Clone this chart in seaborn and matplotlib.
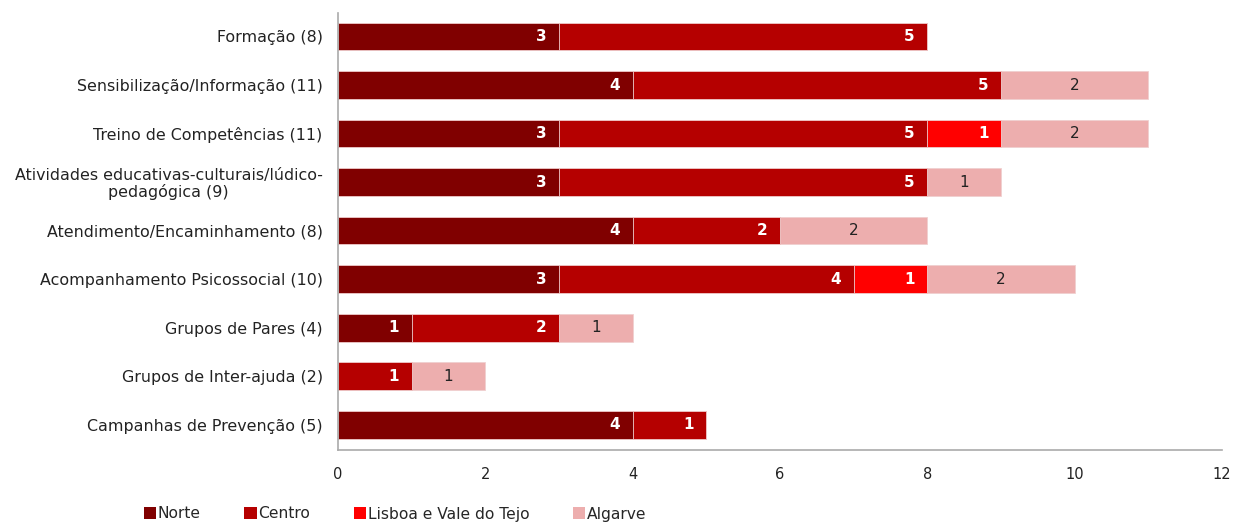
import matplotlib
matplotlib.use("Agg")
import matplotlib.pyplot as plt
import seaborn as sns
import pandas as pd
import numpy as np
from matplotlib.patches import Patch

categories = [
    "Formação (8)",
    "Sensibilização/Informação (11)",
    "Treino de Competências (11)",
    "Atividades educativas-culturais/lúdico-\npedagógica (9)",
    "Atendimento/Encaminhamento (8)",
    "Acompanhamento Psicossocial (10)",
    "Grupos de Pares (4)",
    "Grupos de Inter-ajuda (2)",
    "Campanhas de Prevenção (5)",
]
norte = [3, 4, 3, 3, 4, 3, 1, 0, 4]
centro = [5, 5, 5, 5, 2, 4, 2, 1, 1]
lisboa = [0, 0, 1, 0, 0, 1, 0, 0, 0]
algarve = [0, 2, 2, 1, 2, 2, 1, 1, 0]

regions = ["Norte", "Centro", "Lisboa e Vale do Tejo", "Algarve"]
colors = ["#800000", "#B50000", "#FF0000", "#EDAEAE"]
x_ticks = [0, 2, 4, 6, 8, 10, 12]

sns.set_style("white")
plt.rcParams["font.family"] = ["DejaVu Sans"]

series = [norte, centro, lisboa, algarve]
cum = np.cumsum(np.array(series), axis=0)

fig = plt.figure(figsize=(12.45, 5.27), dpi=100)
ax = fig.add_axes([0.2715, 0.146, 0.71, 0.829])

# stacked bars: draw cumulative totals from the outermost segment inward
for i in range(len(regions) - 1, -1, -1):
    df = pd.DataFrame({"cat": categories, "val": cum[i]})
    sns.barplot(data=df, x="val", y="cat", orient="h", color=colors[i],
                width=0.57, edgecolor="#f0d0d0", linewidth=0.6, ax=ax,
                saturation=1)

for j in range(len(categories)):
    for i in range(len(regions)):
        v = series[i][j]
        if v == 0:
            continue
        end = cum[i][j]
        if i == 3:
            ax.text(end - v / 2, j, str(v), ha="center", va="center",
                    color="#222222", fontsize=11)
        else:
            ax.text(end - 0.17, j, str(v), ha="right", va="center",
                    color="white", fontsize=11, fontweight="bold")

ax.set_xlim(0, 12)
ax.set_ylim(8.52, -0.48)
ax.set_xticks(x_ticks)
ax.set_xticklabels([str(t) for t in x_ticks], fontsize=10.5, color="#222222")
ax.tick_params(axis="x", direction="out", length=5, color="#aaaaaa", width=1, pad=7)
ax.tick_params(axis="y", length=0, labelsize=11.4, labelcolor="#222222", pad=11)
ax.set_xlabel("")
ax.set_ylabel("")
for lab in ax.get_yticklabels():
    lab.set_multialignment("center")
    lab.set_linespacing(1.05)
for s in ["top", "right"]:
    ax.spines[s].set_visible(False)
for s in ["left", "bottom"]:
    ax.spines[s].set_color("#aaaaaa")
    ax.spines[s].set_linewidth(1.2)

handles = [Patch(facecolor=c, edgecolor="none") for c in colors]
fig.legend(handles, regions, loc="center", bbox_to_anchor=(395 / 1245, 13 / 527),
           ncol=4, frameon=False, fontsize=11.2, handlelength=0.8, handleheight=0.8,
           handletextpad=0.1, columnspacing=2.8)

fig.savefig("out.png", dpi=100)
